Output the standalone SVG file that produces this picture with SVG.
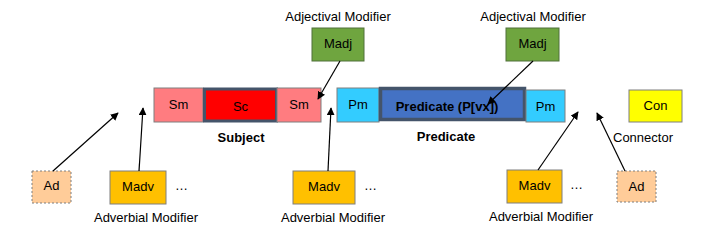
<svg xmlns="http://www.w3.org/2000/svg" width="726" height="245" viewBox="0 0 726 245">
<style>
text{font-family:"Liberation Sans",Arial,sans-serif;font-size:13px;fill:#000}
.c{text-anchor:middle}
.b{font-weight:bold;font-size:13px}
.box{stroke:#7f7f7f;stroke-width:1}
.dash{stroke:#7f7f7f;stroke-width:1;stroke-dasharray:2,2;fill:#FFCC99}
.madv{fill:#FFC000}
.madj{fill:#6FA53F;stroke:#50703a}
.sm{fill:#FF7C80}
.pm{fill:#33CCFF}
.con line{stroke:#000;stroke-width:1.2;marker-end:url(#ah)}
</style>
<defs>
<marker id="ah" viewBox="0 0 10 10" refX="9" refY="5" markerWidth="8" markerHeight="8" markerUnits="userSpaceOnUse" orient="auto">
<path d="M0,0 L10,5 L0,10 z" fill="#000"/>
</marker>
</defs>
<rect width="726" height="245" fill="#fff"/>
<g id="subject">
<rect id="sm1" class="box sm" x="154" y="88" width="49" height="34"/>
<text class="c" x="178.5" y="109">Sm</text>
<rect id="sc" x="204.5" y="89" width="72" height="32" fill="#FF0000" stroke="#44546A" stroke-width="3"/>
<text class="c" x="240.5" y="111">Sc</text>
<rect id="sm2" class="box sm" x="277" y="88" width="44" height="34"/>
<text class="c" x="299" y="109">Sm</text>
<text class="c b" x="241" y="142">Subject</text>
</g>
<g id="predicate">
<rect id="pm1" class="box pm" x="337" y="88" width="42" height="34"/>
<text class="c" x="358" y="109">Pm</text>
<rect id="pc" x="380.5" y="88.5" width="144" height="31" fill="#4472C4" stroke="#44546A" stroke-width="3.5"/>
<text class="c b" x="447" y="111">Predicate (P[vx])</text>
<rect id="pm2" class="box pm" x="526" y="90" width="39" height="32"/>
<text class="c" x="545.5" y="111">Pm</text>
<text class="c b" x="446" y="141">Predicate</text>
</g>
<g id="madj1">
<text class="c" x="338" y="21">Adjectival Modifier</text>
<rect class="madj" x="312" y="28" width="52" height="33"/>
<text class="c" x="338" y="48">Madj</text>
</g>
<g id="madj2">
<text class="c" x="533" y="21">Adjectival Modifier</text>
<rect class="madj" x="506" y="28" width="53" height="33"/>
<text class="c" x="532.5" y="48">Madj</text>
</g>
<g id="con">
<rect class="box" x="629" y="90" width="53" height="32" fill="#FFFF00"/>
<text class="c" x="655.5" y="110">Con</text>
<text x="613" y="142">Connector</text>
</g>
<g id="ad1">
<rect class="dash" x="32" y="171" width="39" height="32"/>
<text class="c" x="51.5" y="190">Ad</text>
</g>
<g id="madv1">
<rect class="box madv" x="110" y="171" width="56" height="33"/>
<text class="c" x="138" y="191">Madv</text>
<text x="175" y="190" letter-spacing="2">…</text>
<text class="c" x="146" y="222">Adverbial Modifier</text>
</g>
<g id="madv2">
<rect class="box madv" x="293" y="171" width="62" height="33"/>
<text class="c" x="324" y="191">Madv</text>
<text x="364" y="190">…</text>
<text class="c" x="333" y="222">Adverbial Modifier</text>
</g>
<g id="madv3">
<rect class="box madv" x="507" y="170" width="55" height="33"/>
<text class="c" x="534.5" y="190">Madv</text>
<text x="570" y="189">…</text>
<text class="c" x="541" y="221">Adverbial Modifier</text>
</g>
<g id="ad2">
<rect class="dash" x="617" y="171" width="39" height="31"/>
<text class="c" x="636.5" y="191">Ad</text>
</g>
<g class="con" id="connectors">
<line x1="53" y1="171" x2="118" y2="113"/>
<line x1="139" y1="171" x2="143" y2="108"/>
<line x1="340" y1="61" x2="318" y2="99"/>
<line x1="328" y1="171" x2="331" y2="108"/>
<line x1="533" y1="61" x2="488" y2="104"/>
<line x1="538" y1="170" x2="578" y2="112"/>
<line x1="625" y1="171" x2="597" y2="113"/>
</g>
</svg>
